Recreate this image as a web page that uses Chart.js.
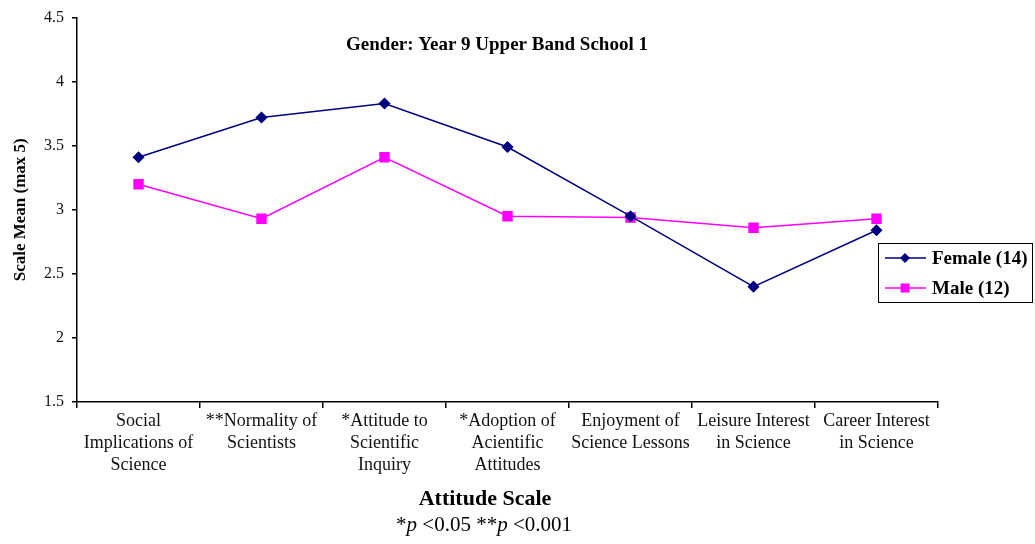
<!DOCTYPE html>
<html>
<head>
<meta charset="utf-8">
<script src="https://cdn.jsdelivr.net/npm/chart.js@4"></script>
<style>
  html, body { margin: 0; padding: 0; background: #fff; }
  #wrap { width: 1035px; height: 544px; position: relative; }
</style>
</head>
<body>
<div id="wrap"><canvas id="chart" width="1035" height="544"></canvas></div>
<script>
const categories = [
    ['Social', 'Implications of', 'Science'],
    ['**Normality of', 'Scientists'],
    ['*Attitude to', 'Scientific', 'Inquiry'],
    ['*Adoption of', 'Acientific', 'Attitudes'],
    ['Enjoyment of', 'Science Lessons'],
    ['Leisure Interest', 'in Science'],
    ['Career Interest', 'in Science']
];
const femaleValues = [3.41, 3.72, 3.83, 3.49, 2.95, 2.40, 2.84];
const maleValues = [3.20, 2.93, 3.41, 2.95, 2.94, 2.86, 2.93];
const yTicks = [1.5, 2, 2.5, 3, 3.5, 4, 4.5];

const serif = '"Liberation Serif", "Times New Roman", serif';

// title, legend box and x footnote drawn by hand
const extras = {
    id: 'extras',
    afterDraw(chart) {
        const ctx = chart.ctx;
        ctx.save();
        ctx.fillStyle = '#000';
        ctx.textAlign = 'center';
        ctx.textBaseline = 'middle';
        ctx.font = 'bold 19px ' + serif;
        ctx.fillText('Gender: Year 9 Upper Band School 1', 497, 45);

        ctx.font = 'bold 22px ' + serif;
        ctx.fillText('Attitude Scale', 485, 499);

        // footnote with italic p
        const parts = [['*', 'normal'], ['p', 'italic'], [' <0.05 **', 'normal'], ['p', 'italic'], [' <0.001', 'normal']];
        ctx.textAlign = 'left';
        let w = 0;
        parts.forEach(p => { ctx.font = p[1] + ' 21px ' + serif; w += ctx.measureText(p[0]).width; });
        let x = 484 - w / 2;
        parts.forEach(p => {
            ctx.font = p[1] + ' 21px ' + serif;
            ctx.fillText(p[0], x, 525);
            x += ctx.measureText(p[0]).width;
        });

        // legend
        ctx.strokeStyle = '#000';
        ctx.lineWidth = 1;
        ctx.strokeRect(878.5, 243.5, 154, 59);
        chart.data.datasets.forEach((ds, i) => {
            const y = 258 + i * 30;
            ctx.strokeStyle = ds.borderColor;
            ctx.lineWidth = 1.5;
            ctx.beginPath();
            ctx.moveTo(885, y);
            ctx.lineTo(926, y);
            ctx.stroke();
            ctx.fillStyle = ds.borderColor;
            ctx.beginPath();
            if (ds.pointStyle === 'rectRot') {
                ctx.moveTo(905, y - 5); ctx.lineTo(910, y); ctx.lineTo(905, y + 5); ctx.lineTo(900, y);
            } else {
                ctx.rect(900.5, y - 4.5, 9, 9);
            }
            ctx.fill();
            ctx.fillStyle = '#000';
            ctx.font = 'bold 19px ' + serif;
            ctx.textAlign = 'left';
            ctx.fillText(ds.label, 932, y + 1);
        });
        ctx.restore();
    }
};

new Chart(document.getElementById('chart'), {
    type: 'line',
    data: {
        labels: categories,
        datasets: [{
            label: 'Female (14)',
            data: femaleValues,
            borderColor: '#000080',
            backgroundColor: '#000080',
            borderWidth: 1.5,
            pointStyle: 'rectRot',
            pointRadius: 5,
            pointHoverRadius: 5
        }, {
            label: 'Male (12)',
            data: maleValues,
            borderColor: '#ff00ff',
            backgroundColor: '#ff00ff',
            borderWidth: 1.5,
            pointStyle: 'rect',
            pointRadius: 6.3,
            pointHoverRadius: 6.3
        }]
    },
    options: {
        responsive: false,
        animation: false,
        devicePixelRatio: 1,
        layout: { padding: { top: 17.5, right: 97, left: 0, bottom: 0 } },
        plugins: {
            legend: { display: false },
            tooltip: { enabled: false }
        },
        scales: {
            x: {
                offset: true,
                grid: { offset: true, drawOnChartArea: false, tickLength: 6, color: '#000', lineWidth: 1.5 },
                border: { color: '#000', width: 1.5 },
                ticks: {
                    color: '#111',
                    font: { family: serif, size: 18, lineHeight: 1.23 },
                    maxRotation: 0,
                    autoSkip: false,
                    padding: 2
                },
                afterFit(scale) { scale.height = 142; }
            },
            y: {
                min: 1.5,
                max: 4.5,
                afterBuildTicks(scale) { scale.ticks = yTicks.map(v => ({ value: v })); },
                grid: { drawOnChartArea: false, tickLength: 5, color: '#000', lineWidth: 1.5 },
                border: { color: '#000', width: 1.5 },
                ticks: {
                    color: '#111',
                    font: { family: serif, size: 16 },
                    padding: 8,
                    callback: v => String(v)
                },
                title: {
                    display: true,
                    text: 'Scale Mean (max 5)',
                    color: '#000',
                    font: { family: serif, size: 17, weight: 'bold' },
                    padding: { top: 10, bottom: 0 }
                },
                afterFit(scale) { scale.width = 77; }
            }
        }
    },
    plugins: [extras]
});
</script>
</body>
</html>
